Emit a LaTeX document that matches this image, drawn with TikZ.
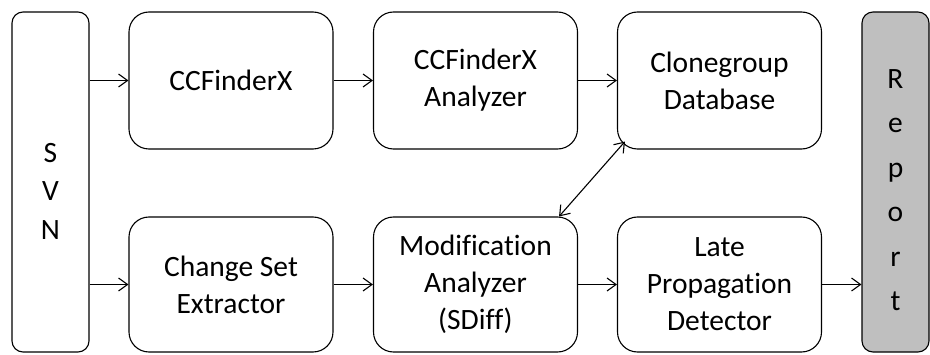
\documentclass[tikz,border=0pt]{standalone}
\usepackage{fontspec}
\setmainfont{Carlito}[Ligatures=NoCommon]
\usetikzlibrary{arrows.meta,calc}
\begin{document}
\begin{tikzpicture}[x=1pt,y=1pt,
  box/.style={draw=black, line width=1.1pt, rounded corners=20pt, fill=white,
    minimum width=204pt, align=center, inner sep=0pt,
    font=\fontsize{29.5}{37}\selectfont},
  tallbox/.style={draw=black, line width=1.1pt, rounded corners=11pt,
    minimum height=340pt, inner sep=0pt},
  arr/.style={line width=1.1pt, -{Straight Barb[length=9pt,width=13pt,line width=1.1pt]}},
  barr/.style={line width=1.1pt, {Straight Barb[length=9pt,width=13pt,line width=1.1pt]}-{Straight Barb[length=9pt,width=13pt,line width=1.1pt]}},
  vlab/.style={font=\fontsize{29.5}{38.5}\selectfont, align=center}
]
\useasboundingbox (0,0) rectangle (930,354);
% tall boxes
\node[tallbox, minimum width=77pt,
  label={[vlab, font=\fontsize{29.5}{38.5}\selectfont, yshift=-9pt]center:S\\V\\N}]
  (svn) at (50.5,172) {};
\node[tallbox, minimum width=67pt, fill=black!25,
  label={[vlab, font=\fontsize{29.5}{44.5}\selectfont, yshift=-8pt]center:R\\e\\p\\o\\r\\t}]
  (rep) at (895.5,172) {};
% top row
\node[box, minimum height=137pt] (ccf) at (231,273.5) {CCFinderX};
\node[box, minimum height=137pt] (ana) at (475.5,273.5) {CCFinderX\\Analyzer};
\node[box, minimum height=137pt] (clone) at (719.5,273.5) {Clonegroup\\Database};
% bottom row
\node[box, minimum height=135pt] (cse) at (231,69.5) {Change Set\\Extractor};
\node[box, minimum height=135pt] (mod) at (475.5,69.5) {Modification\\Analyzer\\(SDiff)};
\node[box, minimum height=135pt] (late) at (719.5,69.5) {Late\\Propagation\\Detector};
% connectors
\draw[arr] (svn.east |- ccf.west) -- (ccf.west);
\draw[arr] (svn.east |- cse.west) -- (cse.west);
\draw[arr] (ccf.east) -- (ana.west);
\draw[arr] (ana.east) -- (clone.west);
\draw[arr] (cse.east) -- (mod.west);
\draw[arr] (mod.east) -- (late.west);
\draw[arr] (late.east) -- (late.east -| rep.west);
\draw[barr] ([xshift=-19pt]mod.north east) -- ([xshift=8pt,yshift=8pt]clone.south west);
\end{tikzpicture}
\end{document}
